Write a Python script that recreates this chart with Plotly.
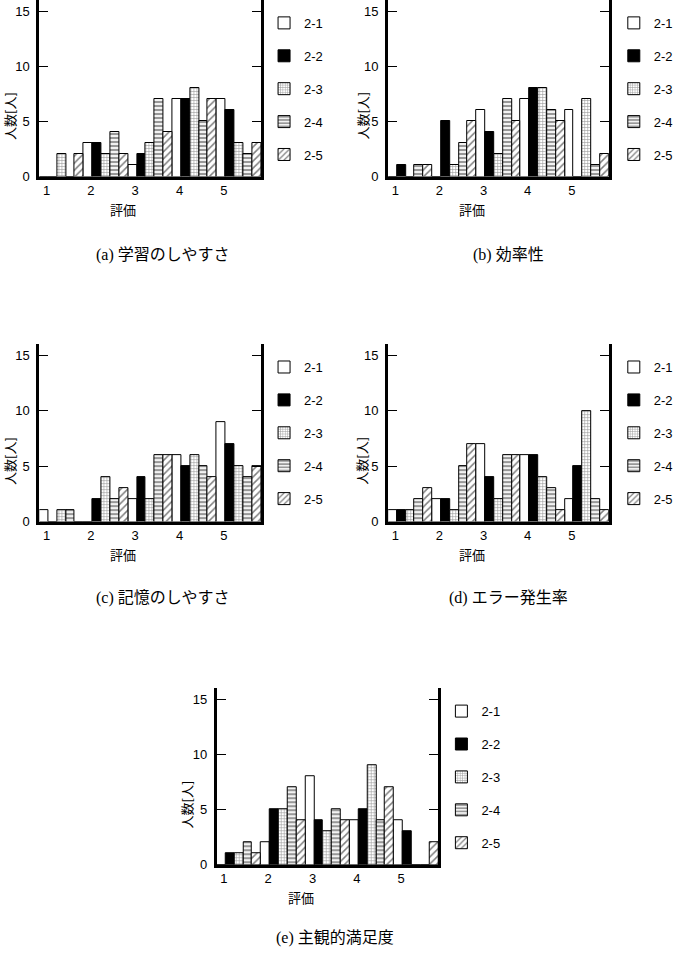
import plotly.graph_objects as go

W, H = 678, 961

categories = [1, 2, 3, 4, 5]
series_names = ["2-1", "2-2", "2-3", "2-4", "2-5"]
tick_labels = ["1", "2", "3", "4", "5"]
y_ticks = [0, 5, 10, 15]
panel_titles = ["(a) 学習のしやすさ", "(b) 効率性", "(c) 記憶のしやすさ",
                "(d) エラー発生率", "(e) 主観的満足度"]

# counts per series (2-1 .. 2-5) for ratings 1..5
panel_a = [[0, 3, 1, 7, 7],
           [0, 3, 2, 7, 6],
           [2, 2, 3, 8, 3],
           [0, 4, 7, 5, 2],
           [2, 2, 4, 7, 3]]
panel_b = [[0, 0, 6, 7, 6],
           [1, 5, 4, 8, 0],
           [0, 1, 2, 8, 7],
           [1, 3, 7, 6, 1],
           [1, 5, 5, 5, 2]]
panel_c = [[1, 0, 2, 6, 9],
           [0, 2, 4, 5, 7],
           [1, 4, 2, 6, 5],
           [1, 2, 6, 5, 4],
           [0, 3, 6, 4, 5]]
panel_d = [[1, 2, 7, 6, 2],
           [1, 2, 4, 6, 5],
           [1, 1, 2, 4, 10],
           [2, 5, 6, 3, 2],
           [3, 7, 6, 1, 1]]
panel_e = [[0, 2, 8, 4, 4],
           [1, 5, 4, 5, 3],
           [1, 5, 3, 9, 0],
           [2, 7, 5, 4, 0],
           [1, 4, 4, 7, 2]]
panels = [panel_a, panel_b, panel_c, panel_d, panel_e]

# layout in pixels: (left, right, zero_y, top_y, legend_x, ytitle_offset, caption_x, caption_y)
geom = [
    (40, 265, 178, 0, 268, 31, 165, 257),
    (394, 618, 178, 0, 623, 27, 516, 257),
    (40, 265, 526, 347, 268, 31, 165, 603),
    (394, 618, 526, 347, 623, 27, 516, 603),
    (220, 445, 872, 694, 448, 31, 340, 946),
]

styles = [
    dict(color="white", pattern=dict(shape="")),
    dict(color="black", pattern=dict(shape="")),
    dict(color="white", pattern=dict(shape="+", fgcolor="#333", bgcolor="white", size=3, solidity=0.35)),
    dict(color="#999", pattern=dict(shape="-", fgcolor="#111", bgcolor="#f2f2f2", size=4, solidity=0.4)),
    dict(color="white", pattern=dict(shape="/", fgcolor="#000", bgcolor="white", size=5, solidity=0.3)),
]

def px_x(v):
    return v / W

def px_y(v):
    return 1 - v / H

fig = go.Figure()
layout = dict(
    width=W, height=H, margin=dict(l=0, r=0, t=0, b=0),
    plot_bgcolor="white", paper_bgcolor="white",
    barmode="group", bargap=0, bargroupgap=0,
    font=dict(family="Liberation Sans, Arial, sans-serif", size=13, color="black"),
    annotations=[],
)

label_font = dict(family="Noto Sans CJK JP", size=13, color="black")
for p, (data, g) in enumerate(zip(panels, geom)):
    left, right, y0, ytop, legx, ytoff, capx, capy = g
    idx = "" if p == 0 else str(p + 1)
    xa, ya = "x" + idx, "y" + idx
    leg = "legend" + idx
    for s, (name, vals) in enumerate(zip(series_names, data)):
        st = styles[s]
        fig.add_trace(go.Bar(
            x=categories, y=vals, name=name, xaxis=xa, yaxis=ya,
            legend=leg, legendgroup=f"{p}-{name}",
            marker=dict(color=st["color"], pattern=st["pattern"],
                        line=dict(color="black", width=1)),
            showlegend=True,
        ))
    layout["xaxis" + idx] = dict(
        domain=[px_x(left), px_x(right)], anchor=ya, range=[0.5, 5.5],
        tickmode="array", tickvals=[c - 0.34 for c in categories], ticktext=tick_labels,
        showline=True, linewidth=2.5, linecolor="black", ticks="", showgrid=False,
        zeroline=False, tickfont=dict(size=13), fixedrange=True,
    )
    layout["yaxis" + idx] = dict(
        domain=[px_y(y0), px_y(ytop)], anchor=xa, range=[0, 16],
        tickmode="array", tickvals=y_ticks,
        showline=True, linewidth=3, linecolor="black", mirror="ticks",
        ticks="inside", ticklen=9, tickwidth=1.2, tickcolor="black",
        showgrid=False, zeroline=False, tickfont=dict(size=13),
        ticklabelstandoff=4,
    )
    layout[leg] = dict(
        x=px_x(legx), y=px_y(ytop + 8), xanchor="left", yanchor="top",
        bgcolor="rgba(0,0,0,0)", borderwidth=0, tracegroupgap=13,
        font=dict(family="Liberation Sans, Arial, sans-serif", size=13),
        itemwidth=30,
    )
    layout["annotations"] += [
        dict(text="人数[人]", x=px_x(left - ytoff), y=px_y(y0 - 61), xref="paper", yref="paper",
             textangle=-90, showarrow=False, font=label_font, xanchor="center", yanchor="middle"),
        dict(text="評価", x=px_x(left + 85), y=px_y(y0 + 33), xref="paper", yref="paper",
             showarrow=False, font=label_font, xanchor="center", yanchor="middle"),
        dict(text=panel_titles[p], x=px_x(capx), y=px_y(capy), xref="paper", yref="paper",
             showarrow=False, xanchor="center", yanchor="middle",
             font=dict(family="Liberation Serif, Noto Sans CJK JP", size=16, color="black")),
    ]

fig.update_layout(**layout)
fig.write_html("out.html")
